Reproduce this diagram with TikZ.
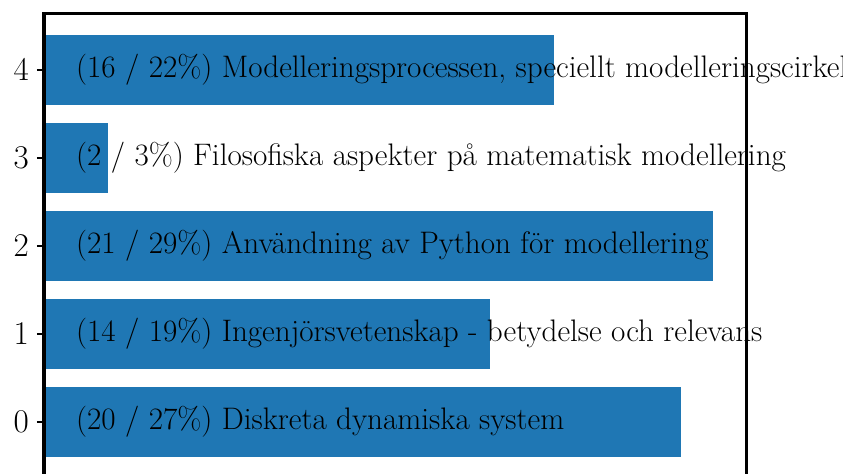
\documentclass[tikz,border=0pt]{standalone}
\usepackage{tikz}
\definecolor{barblue}{HTML}{1F77B4}

\begin{document}
\begin{tikzpicture}[x=23.9pt, y=66pt,
    bar/.style = {fill=barblue, draw=none},
    lbl/.style = {anchor=west, inner sep=0pt, font=\fontsize{23.35}{28}\selectfont},
    ticklbl/.style = {anchor=east, inner sep=6pt, font=\fontsize{23.35}{28}\selectfont},
    spine/.style = {line width=2.4pt, line cap=rect}]
                \useasboundingbox (-1.381,-0.591) rectangle (25.08,4.795);
                \foreach \i/\v/\t in {0/20/{(20 / 27\%) Diskreta dynamiska system},
                                      1/14/{(14 / 19\%) Ingenjörsvetenskap - betydelse och relevans},
                                      2/21/{(21 / 29\%) Användning av Python för modellering},
                                      3/2/{(2 / 3\%) Filosofiska aspekter på matematisk modellering},
                                      4/16/{(16 / 22\%) Modelleringsprocessen, speciellt modelleringscirkeln}} {
                    \fill[bar] (0,\i-0.4) rectangle (\v,\i+0.4);
                    \node[lbl] (label\i) at (1,\i) {\t};
                    \coordinate (tick\i) at (-0.22,\i);
                    \draw[line width=1.5pt] (tick\i) -- (0,\i);
                    \node[ticklbl] (num\i) at (tick\i) {$\i$};
                }
                % axes frame
                \draw[spine] (0,-0.64) -- (0,4.64) -- (22.05,4.64) -- (22.05,-0.64);
            \end{tikzpicture}
\end{document}
